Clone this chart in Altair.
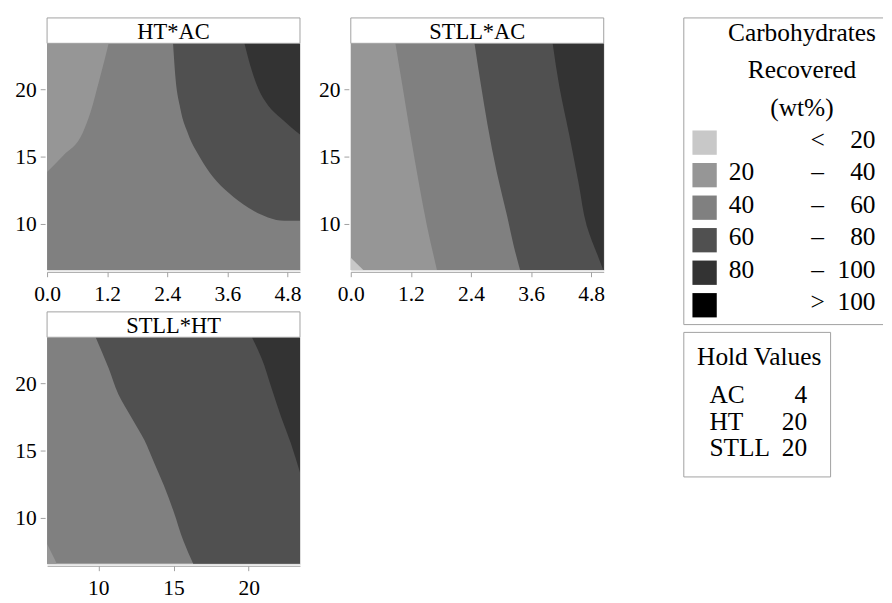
import altair as alt
import pandas as pd

FONT = "'Liberation Serif', 'Times New Roman', Times, serif"
GRAY = "#a0a0a0"

# ---------------- legend content ----------------
legend_colors = ["#c8c8c8", "#969696", "#808080", "#505050", "#333333", "#000000"]
legend_lo = ["", "20", "40", "60", "80", ""]
legend_sym = ["<", "–", "–", "–", "–", ">"]
legend_hi = ["20", "40", "60", "80", "100", "100"]
legend_title = ["Carbohydrates", "Recovered", "(wt%)"]
hold_names = ["AC", "HT", "STLL"]
hold_values = ["4", "20", "20"]

panel_titles = ["HT*AC", "STLL*AC", "STLL*HT"]

C_LT20, C_20, C_40, C_60, C_80 = legend_colors[:5]

# ---------------- axes ----------------
ac_domain = [0.0, 5.05]
ht_domain = [6.59, 23.41]
stll_domain = [6.59, 23.41]
ac_ticks = [0.0, 1.2, 2.4, 3.6, 4.8]
ht_ticks = [10, 15, 20]
stll_ticks = [10, 15, 20]

# ---------------- panel 1: HT (y) vs AC (x), boundaries HT(AC) ----------------
p1_b20_ac = [0.0, 0.32, 0.71, 0.87, 1.03, 1.15, 1.23]
p1_b20_ht = [13.86, 15.07, 16.76, 18.33, 20.51, 22.2, 23.41]
p1_b60_ac = [2.515, 2.56, 2.66, 2.82, 3.05, 3.31, 3.63, 4.02, 4.41, 4.74, 5.05]
p1_b60_ht = [23.41, 21.0, 18.57, 16.64, 14.95, 13.5, 12.29, 11.2, 10.48, 10.23, 10.23]
p1_b80_ac = [3.94, 4.06, 4.22, 4.41, 4.67, 5.05]
p1_b80_ht = [23.41, 21.72, 20.02, 18.82, 17.85, 16.64]

# ---------------- panel 2: STLL (y) vs AC (x), boundaries AC(STLL) ----------------
p2_lt20_stll = [6.59, 7.5]
p2_lt20_ac = [0.25, 0.0]
p2_b40_stll = [6.59, 9.87, 13.0, 16.64, 20.27, 23.41]
p2_b40_ac = [1.72, 1.52, 1.36, 1.19, 1.03, 0.89]
p2_b60_stll = [6.59, 8.42, 10.6, 13.74, 17.37, 20.27, 23.41]
p2_b60_ac = [3.38, 3.25, 3.12, 2.92, 2.73, 2.60, 2.47]
p2_b80_stll = [6.59, 7.46, 9.87, 13.0, 16.64, 20.27, 23.41]
p2_b80_ac = [5.04, 4.95, 4.71, 4.55, 4.36, 4.16, 4.03]

# ---------------- panel 3: STLL (y) vs HT (x), boundaries HT(STLL) ----------------
p3_b20_stll = [6.59, 8.07]
p3_b20_ht = [7.24, 6.59]
p3_b60_stll = [6.59, 8.28, 10.46, 12.4, 14.09, 15.78, 17.48, 19.18, 21.12, 23.41]
p3_b60_ht = [16.31, 15.66, 15.01, 14.36, 13.71, 13.06, 12.19, 11.33, 10.68, 9.82]
p3_b80_stll = [13.37, 15.55, 17.48, 19.66, 21.84, 23.41]
p3_b80_ht = [23.41, 22.8, 22.16, 21.51, 20.86, 20.21]

W, H = 259, 232
HDR = 26


def make_panel(title, xdom, ydom, xticks, xfmt, yticks, base_color, layers):
    xs = alt.Scale(domain=xdom, nice=False, zero=False)
    ys = alt.Scale(domain=ydom, nice=False, zero=False)
    xa = alt.Axis(values=xticks, format=xfmt, title=None, grid=False, offset=2,
                  tickSize=5, labelPadding=7, labelFlush=False, labelOverlap=False,
                  domainColor=GRAY, tickColor=GRAY, labelFontSize=22,
                  labelFont=FONT, labelColor="black")
    ya = alt.Axis(values=yticks, format="d", title=None, grid=False, offset=2,
                  tickSize=5, labelPadding=4, domain=False, labelOverlap=False,
                  tickColor=GRAY, labelFontSize=22, labelFont=FONT,
                  labelColor="black")
    X = alt.X("x:Q", scale=xs, axis=xa)
    Y = alt.Y("y:Q", scale=ys, axis=ya)
    base_df = pd.DataFrame({"x": [xdom[0]], "x2": [xdom[1]],
                            "y": [ydom[0]], "y2": [ydom[1]]})
    charts = [alt.Chart(base_df).mark_rect(color=base_color).encode(
        x=X, x2="x2:Q", y=Y, y2="y2:Q")]
    for kind, color, df in layers:
        if kind == "v":
            ch = alt.Chart(df).mark_area(color=color, interpolate="monotone",
                                         orient="vertical").encode(
                x=X, y=Y, y2="y2:Q")
        else:
            ch = alt.Chart(df).mark_area(color=color, interpolate="monotone",
                                         orient="horizontal").encode(
                y=Y, x=X, x2="x2:Q")
        charts.append(ch)
    hdr = alt.Chart(pd.DataFrame({"t": [title]}))
    charts.append(hdr.mark_rect(fill="white", stroke=GRAY, strokeWidth=1).encode(
        x=alt.value(0), x2=alt.value(W), y=alt.value(-HDR), y2=alt.value(0)))
    charts.append(hdr.mark_text(fontSize=23, font=FONT, baseline="alphabetic",
                                align="center", color="black").encode(
        x=alt.value(W / 2), y=alt.value(-4.5), text="t:N"))
    return alt.layer(*charts).properties(width=W, height=H)


def vdf(xs, ys, top):
    return pd.DataFrame({"x": xs, "y": ys, "y2": [top] * len(xs)})


def hdf(ys, xs, x2):
    if not isinstance(x2, list):
        x2 = [x2] * len(ys)
    return pd.DataFrame({"y": ys, "x": xs, "x2": x2})


p1 = make_panel(panel_titles[0], ac_domain, ht_domain, ac_ticks, ".1f", ht_ticks, C_40, [
    ("v", C_20, vdf(p1_b20_ac, p1_b20_ht, ht_domain[1])),
    ("v", C_60, vdf(p1_b60_ac, p1_b60_ht, ht_domain[1])),
    ("v", C_80, vdf(p1_b80_ac, p1_b80_ht, ht_domain[1])),
])

p2 = make_panel(panel_titles[1], ac_domain, stll_domain, ac_ticks, ".1f", stll_ticks, C_20, [
    ("h", C_LT20, hdf(p2_lt20_stll, [ac_domain[0]] * 2, p2_lt20_ac)),
    ("h", C_40, hdf(p2_b40_stll, p2_b40_ac, ac_domain[1])),
    ("h", C_60, hdf(p2_b60_stll, p2_b60_ac, ac_domain[1])),
    ("h", C_80, hdf(p2_b80_stll, p2_b80_ac, ac_domain[1])),
])

p3 = make_panel(panel_titles[2], ht_domain, stll_domain, ht_ticks, "d", stll_ticks, C_40, [
    ("h", C_20, hdf(p3_b20_stll, [ht_domain[0]] * 2, p3_b20_ht)),
    ("h", C_60, hdf(p3_b60_stll, p3_b60_ht, ht_domain[1])),
    ("h", C_80, hdf(p3_b80_stll, p3_b80_ht, ht_domain[1])),
])

# ---------------- legend panel (origin aligned with plot tops) ----------------
LW, LH = 204, 444
LFS = 26
OY = -26  # legend box starts level with the panel headers
one = alt.Chart(pd.DataFrame({"k": [0]}))
ldf = pd.DataFrame({"row": list(range(6)), "color": legend_colors,
                    "lo": legend_lo, "sym": legend_sym, "hi": legend_hi})
sw_y = alt.Y("row:Q", scale=alt.Scale(domain=[0, 5], range=[127.7 + OY, 294.2 + OY]), axis=None)
tx_y = alt.Y("row:Q", scale=alt.Scale(domain=[0, 5], range=[133 + OY, 299.5 + OY]), axis=None)
hold_df = pd.DataFrame({"i": [0, 1, 2], "name": hold_names, "val": hold_values})
hold_y = alt.Y("i:Q", scale=alt.Scale(domain=[0, 2], range=[394 + OY, 449 + OY]), axis=None)
tdf = pd.DataFrame({"t": ["\n".join(legend_title)], "h": ["Hold Values"]})

legend = alt.layer(
    one.mark_rule(color=GRAY).encode(x=alt.value(0), x2=alt.value(LW), y=alt.value(OY)),
    one.mark_rule(color=GRAY).encode(x=alt.value(0), y=alt.value(OY), y2=alt.value(314 + OY)),
    one.mark_rule(color=GRAY).encode(x=alt.value(0), x2=alt.value(LW), y=alt.value(314 + OY)),
    alt.Chart(tdf).mark_text(fontSize=LFS, font=FONT, align="center", baseline="alphabetic",
                             lineBreak="\n", lineHeight=38, color="black").encode(
        x=alt.value(121), y=alt.value(24 + OY), text="t:N"),
    alt.Chart(ldf).mark_square(size=620, opacity=1, filled=True).encode(
        x=alt.value(21.3), y=sw_y, color=alt.Color("color:N", scale=None)),
    alt.Chart(ldf).mark_text(fontSize=LFS, font=FONT, align="left", baseline="alphabetic",
                             color="black").encode(x=alt.value(46), y=tx_y, text="lo:N"),
    alt.Chart(ldf).mark_text(fontSize=LFS, font=FONT, align="center", baseline="alphabetic",
                             color="black").encode(x=alt.value(137), y=tx_y, text="sym:N"),
    alt.Chart(ldf).mark_text(fontSize=LFS, font=FONT, align="right", baseline="alphabetic",
                             color="black").encode(x=alt.value(196.3), y=tx_y, text="hi:N"),
    one.mark_rect(fill="transparent", stroke=GRAY).encode(
        x=alt.value(0), x2=alt.value(150.3), y=alt.value(322 + OY), y2=alt.value(470 + OY)),
    alt.Chart(tdf).mark_text(fontSize=LFS, font=FONT, align="center", baseline="alphabetic",
                             color="black").encode(x=alt.value(77.2), y=alt.value(355.3 + OY), text="h:N"),
    alt.Chart(hold_df).mark_text(fontSize=LFS, font=FONT, align="left", baseline="alphabetic",
                                 color="black").encode(x=alt.value(26.3), y=hold_y, text="name:N"),
    alt.Chart(hold_df).mark_text(fontSize=LFS, font=FONT, align="right", baseline="alphabetic",
                                 color="black").encode(x=alt.value(126.3), y=hold_y, text="val:N"),
).resolve_scale(y="independent").properties(
    width=LW, height=LH, view=alt.ViewBackground(stroke="transparent"))

row1 = alt.hconcat(p1, p2, spacing=16)
left = alt.vconcat(row1, p3, spacing=6)
chart = alt.hconcat(left, legend, spacing=79).properties(
    padding={"left": 6, "top": 2, "right": 0, "bottom": 0}
).configure_view(stroke=GRAY, strokeWidth=1.5).configure(font=FONT)

chart.save("out.html", embed_options={"renderer": "svg", "actions": False})
